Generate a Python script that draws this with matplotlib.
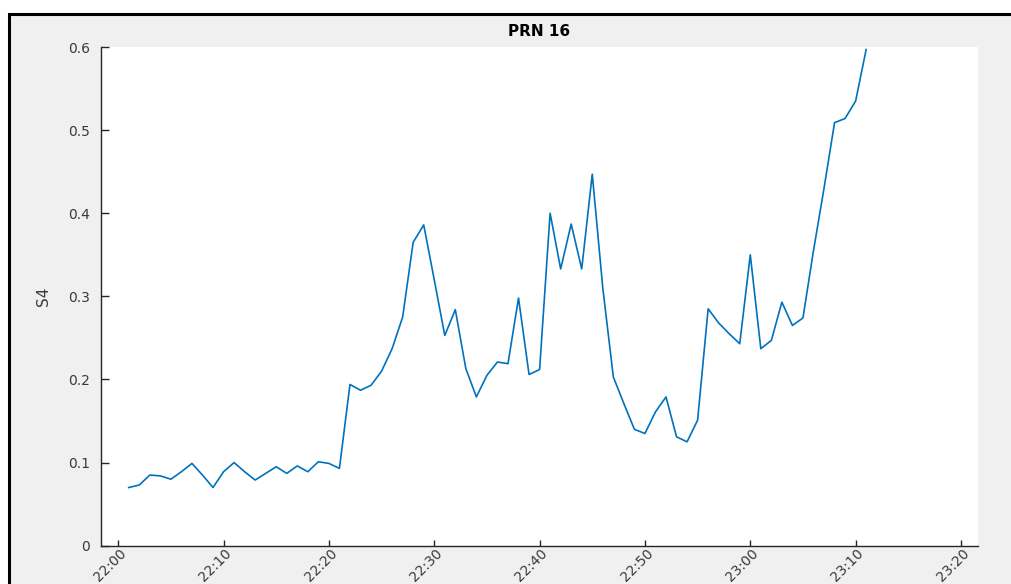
import matplotlib
matplotlib.use("Agg")
import matplotlib.pyplot as plt
import matplotlib.dates as mdates
import matplotlib.transforms as mtransforms
from matplotlib.patches import Rectangle
import pandas as pd

# S4 scintillation index for PRN 16, one sample per minute
times = [f"22:{m:02d}" for m in range(1, 60)] + [f"23:{m:02d}" for m in range(0, 12)]
s4 = [
    0.070, 0.073, 0.085, 0.084, 0.080, 0.089, 0.099, 0.085, 0.070, 0.089,
    0.100, 0.089, 0.079, 0.087, 0.095, 0.087, 0.096, 0.089, 0.101, 0.099,
    0.093, 0.194, 0.187, 0.193, 0.210, 0.237, 0.275, 0.365, 0.386, 0.320,
    0.253, 0.284, 0.213, 0.179, 0.205, 0.221, 0.219, 0.298, 0.206, 0.212,
    0.400, 0.333, 0.387, 0.333, 0.447, 0.310, 0.203, 0.171, 0.140, 0.135,
    0.161, 0.179, 0.131, 0.125, 0.151, 0.285, 0.268, 0.255, 0.243, 0.350,
    0.237, 0.247, 0.293, 0.265, 0.274, 0.355, 0.430, 0.509, 0.514, 0.535,
    0.597,
]
tick_times = ["22:00", "22:10", "22:20", "22:30", "22:40", "22:50", "23:00", "23:10", "23:20"]
y_ticks = [0, 0.1, 0.2, 0.3, 0.4, 0.5, 0.6]

t = pd.to_datetime(times, format="%H:%M")
xt = pd.to_datetime(tick_times, format="%H:%M")

plt.rcParams["font.family"] = ["DejaVu Sans"]
text_col = "#3a3a3a"

fig = plt.figure(figsize=(10.11, 5.84), dpi=100, facecolor="white")

# grey figure panel with a black frame (top and left edges visible)
panel = Rectangle((9 / 1011, -0.1), 1.2, (584 - 14) / 584 + 0.1,
                  transform=fig.transFigure, facecolor="#f0f0f0",
                  edgecolor="black", linewidth=2.2, zorder=-1)
fig.add_artist(panel)

ax = fig.add_axes([101 / 1011, (584 - 545.7) / 584, 877 / 1011, 498.7 / 584])
ax.set_facecolor("white")

ax.plot(t, s4, color="#0072BD", linewidth=1.2)

ax.set_ylim(0, 0.6)
ax.set_yticks(y_ticks)
ax.set_yticklabels(["0", "0.1", "0.2", "0.3", "0.4", "0.5", "0.6"])

x0 = xt[0] - pd.Timedelta(seconds=98)
x1 = xt[-1] + pd.Timedelta(seconds=97)
ax.set_xlim(x0, x1)
ax.set_xticks(xt)
ax.xaxis.set_major_formatter(mdates.DateFormatter("%H:%M"))

for side in ["top", "right"]:
    ax.spines[side].set_visible(False)
for side in ["left", "bottom"]:
    ax.spines[side].set_color("#262626")
    ax.spines[side].set_linewidth(1.0)

ax.tick_params(axis="y", direction="in", length=6, width=1.0, color="#262626",
               labelsize=10, labelcolor=text_col, pad=8)
ax.tick_params(axis="x", direction="in", length=4.5, width=1.0, color="#262626",
               labelsize=10, labelcolor=text_col, pad=4)
shift = mtransforms.ScaledTranslation(6 / 100, 0, fig.dpi_scale_trans)
for lbl in ax.get_xticklabels():
    lbl.set_rotation(45)
    lbl.set_ha("right")
    lbl.set_va("center")
    lbl.set_rotation_mode("anchor")
    lbl.set_transform(lbl.get_transform() + shift)

ax.set_ylabel("S4", fontsize=11, color=text_col, labelpad=12)
ax.set_title("PRN 16", fontsize=11, fontweight="bold", color="black", pad=8)

fig.savefig("out.png", dpi=100, facecolor=fig.get_facecolor())
